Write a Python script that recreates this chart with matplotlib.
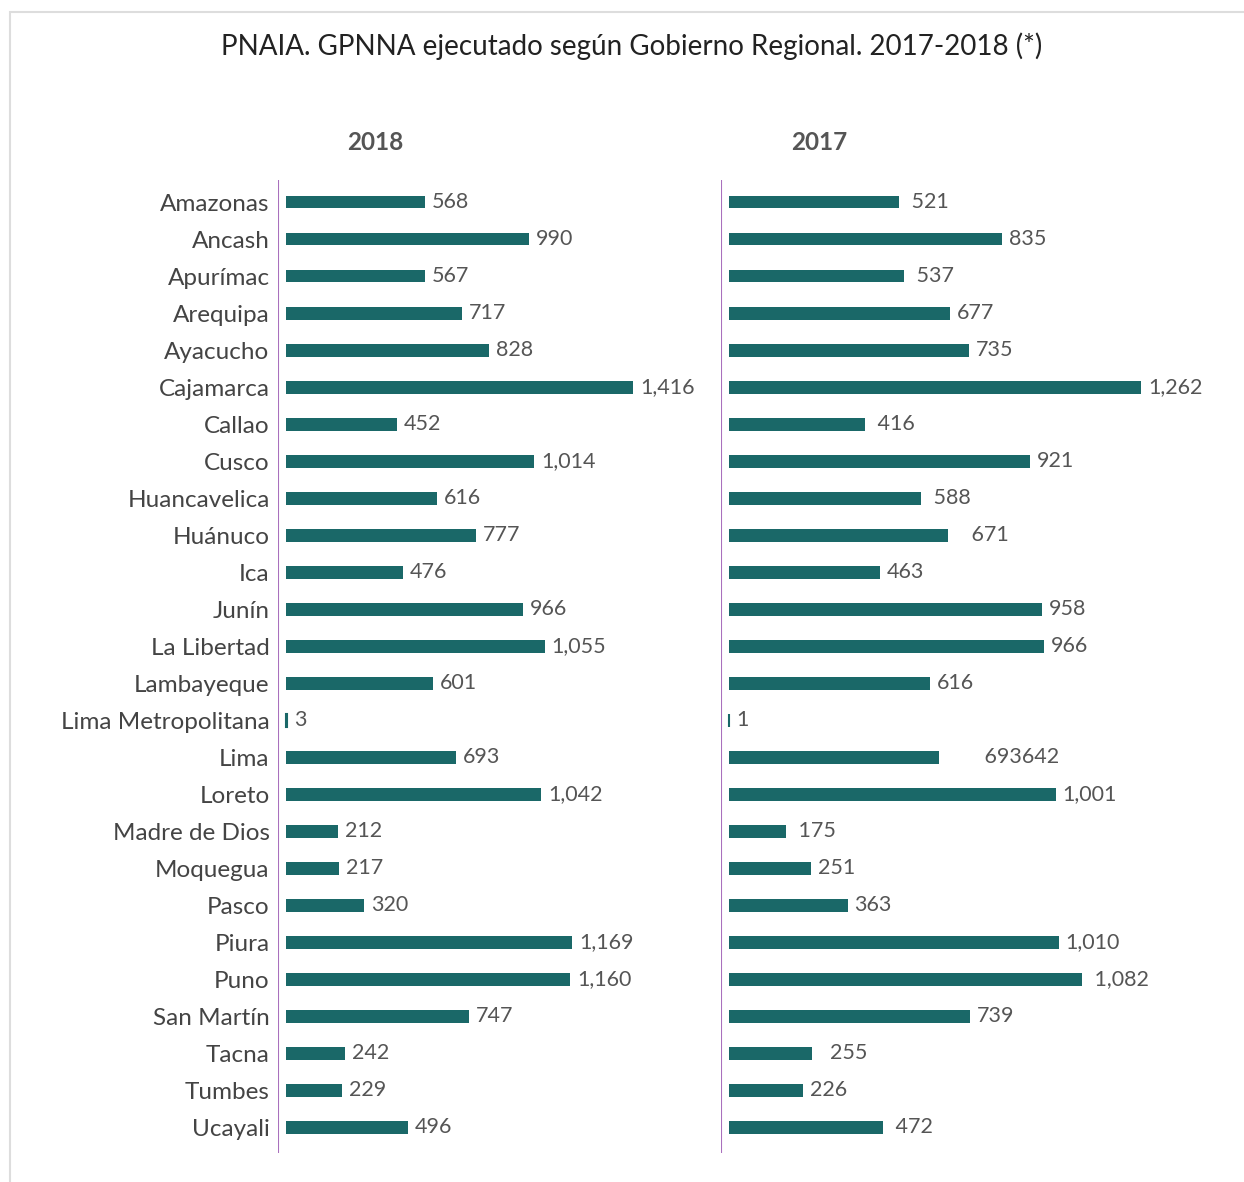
import matplotlib.pyplot as plt
from matplotlib.patches import Rectangle

# data
regiones = ["Amazonas", "Ancash", "Apurímac", "Arequipa", "Ayacucho", "Cajamarca",
            "Callao", "Cusco", "Huancavelica", "Huánuco", "Ica", "Junín",
            "La Libertad", "Lambayeque", "Lima Metropolitana", "Lima", "Loreto",
            "Madre de Dios", "Moquegua", "Pasco", "Piura", "Puno", "San Martín",
            "Tacna", "Tumbes", "Ucayali"]
val_2018 = [568, 990, 567, 717, 828, 1416, 452, 1014, 616, 777, 476, 966,
            1055, 601, 3, 693, 1042, 212, 217, 320, 1169, 1160, 747, 242, 229, 496]
val_2017 = [521, 835, 537, 677, 735, 1262, 416, 921, 588, 671, 463, 958,
            966, 616, 1, 642, 1001, 175, 251, 363, 1010, 1082, 739, 255, 226, 472]
# labels as printed in the source (some have extra padding / a typo)
lab_2018 = ["568", "990", "567", "717", "828", "1,416", "452", "1,014", "616", "777",
            "476", "966", "1,055", "601", "3", "693", "1,042", "212", "217", "320",
            "1,169", "1,160", "747", "242", "229", "496"]
lab_2017 = [" 521", "835", " 537", "677", "735", "1,262", " 416", "921", " 588", "   671",
            "463", "958", "966", "616", "1", "       693642", "1,001", " 175", "251", "363",
            "1,010", " 1,082", "739", "  255", "226", " 472"]

W, H = 1244, 1182
bar_col = "#1a6868"
axis_col = "#a970bd"
txt_col = "#555555"
font = "Lato"

fig = plt.figure(figsize=(W / 100, H / 100), dpi=100)

# light frame
fig.add_artist(Rectangle((10 / W, -0.1), 1.2, 1 - 12 / H + 0.1, transform=fig.transFigure,
                         fill=False, edgecolor="#dddddd", linewidth=1.5))

fig.text(632 / W, 1 - 46 / H, "PNAIA. GPNNA ejecutado según Gobierno Regional. 2017-2018 (*)",
         ha="center", va="center", fontsize=20, color="#222222", family=font)

n = len(regiones)
y = list(range(n))

def panel(left_px, right_px, scale, values, labels, title, title_x, show_names):
    top_px, bot_px = 180, 1153
    ax = fig.add_axes([left_px / W, 1 - bot_px / H, (right_px - left_px) / W, (bot_px - top_px) / H])
    xmin = -8 / scale
    xmax = (right_px - left_px - 8) / scale
    ax.set_xlim(xmin, xmax)
    ax.set_ylim(n - 1 + 0.70, -0.595)
    bars = ax.barh(y, values, height=0.35, color=bar_col, left=0, linewidth=0)
    for b, v in zip(bars, values):
        if v < 10:  # tiny values still get a visible sliver
            b.set_edgecolor(bar_col)
            b.set_linewidth(1.5)
    for yi, v, lab in zip(y, values, labels):
        ax.annotate(lab, (v, yi), xytext=(5, 0), textcoords="offset points",
                    va="center", ha="left", fontsize=15.5, color=txt_col, family=font)
    ax.axvline(xmin, color=axis_col, linewidth=1.5)
    for s in ax.spines.values():
        s.set_visible(False)
    ax.set_xticks([])
    if show_names:
        ax.set_yticks(y)
        ax.set_yticklabels(regiones, fontsize=17.5, color="#444444", family=font)
        ax.tick_params(axis="y", length=0, pad=6)
    else:
        ax.set_yticks([])
    fig.text(title_x / W, 1 - 142 / H, title, ha="center", va="center",
             fontsize=17.5, fontweight="bold", color=txt_col, family=font)
    return ax

panel(278, 715, 347 / 1416, val_2018, lab_2018, "2018", 375, True)
panel(721, 1235, 412 / 1262, val_2017, lab_2017, "2017", 819, False)

fig.savefig("out.png", dpi=100)
